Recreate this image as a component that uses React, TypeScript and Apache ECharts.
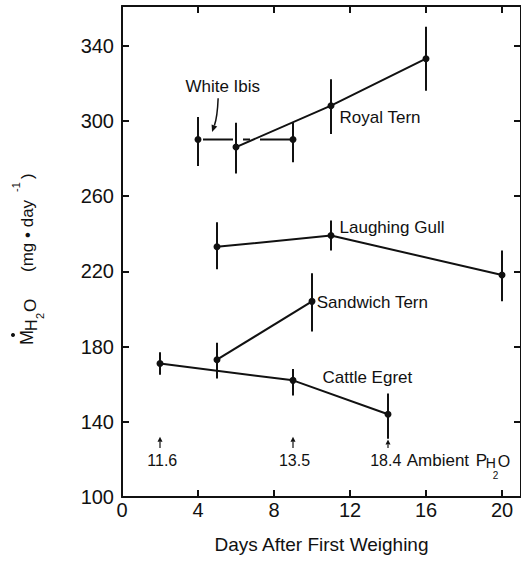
import React, { useEffect, useRef } from 'react';
import * as echarts from 'echarts';

// ---- data ----
const xTicks = [0, 4, 8, 12, 16, 20];
const yTicks = [100, 140, 180, 220, 260, 300, 340];

const whiteIbis = [[4, 290], [9, 290]];
const whiteIbisErr = [[4, 276, 302], [9, 278, 299]];
const royalTern = [[6, 286], [11, 308], [16, 333]];
const royalTernErr = [[6, 272, 299], [11, 293, 322], [16, 316, 350]];
const laughingGull = [[5, 233], [11, 239], [20, 218]];
const laughingGullErr = [[5, 221, 246], [11, 231, 247], [20, 204, 231]];
const sandwichTern = [[5, 173], [10, 204]];
const sandwichTernErr = [[5, 163, 182], [10, 188, 219]];
const cattleEgret = [[2, 171], [9, 162], [14, 144]];
const cattleEgretErr = [[2, 165, 177], [9, 154, 168], [14, 131, 155]];

const speciesNames = ['White Ibis', 'Royal Tern', 'Laughing Gull', 'Sandwich Tern', 'Cattle Egret'];
const speciesLabelAnchors = [[5.3, 318], [11.45, 301.5], [11.45, 243], [10.25, 203.5], [10.55, 163.5]];
const speciesLabelAlign = ['center', 'left', 'left', 'left', 'left'];

const ambientDays = [2, 9, 14];
const ambientPressures = ['11.6', '13.5', '18.4'];
const ambientLabelDays = [2.12, 9.08, 13.88];
const ambientArrowTips = [132, 132, 130.5];
const ambientArrowBase = 126;
const ambientLabelY = 119.5;

// White Ibis pointer: start, control, end (data coords)
const ibisPointer = [[5.06, 312], [5.02, 302], [4.74, 294]];

const FONT = '"Liberation Sans", Arial, sans-serif';
const INK = '#111';

export default function App() {
  const ref = useRef<HTMLDivElement>(null);

  useEffect(() => {
    const chart = echarts.init(ref.current!, null, { renderer: 'svg' });

    const errorData = [
      ...whiteIbisErr,
      ...royalTernErr,
      ...laughingGullErr,
      ...sandwichTernErr,
      ...cattleEgretErr,
    ];

    const lineSeries = (name: string, data: number[][], dashed = false) => ({
      name,
      type: 'line',
      data,
      symbol: 'circle',
      symbolSize: 7,
      itemStyle: { color: INK },
      lineStyle: dashed
        ? { color: INK, width: 2, type: [30, 10, 7, 10, 30, 13], dashOffset: 95 }
        : { color: INK, width: 2 },
      z: 3,
    });

    const arrowHead = (tip: number[], from: number[], len: number, half: number) => {
      const dx = tip[0] - from[0];
      const dy = tip[1] - from[1];
      const l = Math.sqrt(dx * dx + dy * dy) || 1;
      const ux = dx / l, uy = dy / l;
      const bx = tip[0] - ux * len, by = tip[1] - uy * len;
      return {
        base: [bx, by],
        points: [tip, [bx - uy * half, by + ux * half], [bx + uy * half, by - ux * half]],
      };
    };

    const option: any = {
      animation: false,
      backgroundColor: '#fff',
      grid: { left: 122, top: 6, width: 400, height: 491 },
      xAxis: [
        {
          type: 'value', min: 0, max: 21, position: 'bottom',
          axisLine: { show: true, onZero: false, lineStyle: { color: INK, width: 2 } },
          axisTick: { show: true, inside: true, length: 7, customValues: xTicks, lineStyle: { color: INK, width: 2 } },
          axisLabel: { customValues: xTicks, color: INK, fontSize: 20, fontFamily: FONT, margin: 3 },
          splitLine: { show: false },
          name: 'Days After First Weighing',
          nameLocation: 'middle',
          nameGap: 38,
          nameTextStyle: { color: INK, fontSize: 19, fontFamily: FONT },
        },
        {
          type: 'value', min: 0, max: 21, position: 'top',
          axisLine: { show: true, onZero: false, lineStyle: { color: INK, width: 2 } },
          axisTick: { show: true, inside: true, length: 7, customValues: xTicks, lineStyle: { color: INK, width: 2 } },
          axisLabel: { show: false },
          splitLine: { show: false },
        },
      ],
      yAxis: [
        {
          type: 'value', min: 100, max: 361, position: 'left',
          axisLine: { show: true, onZero: false, lineStyle: { color: INK, width: 2 } },
          axisTick: { show: true, inside: true, length: 7, customValues: yTicks, lineStyle: { color: INK, width: 2 } },
          axisLabel: { customValues: yTicks, color: INK, fontSize: 20, fontFamily: FONT, margin: 8 },
          splitLine: { show: false },
        },
        {
          type: 'value', min: 100, max: 361, position: 'right',
          axisLine: { show: true, onZero: false, lineStyle: { color: INK, width: 2 } },
          axisTick: { show: true, inside: true, length: 7, customValues: yTicks, lineStyle: { color: INK, width: 2 } },
          axisLabel: { show: false },
          splitLine: { show: false },
        },
      ],
      series: [
        {
          name: 'errors',
          type: 'custom',
          data: errorData,
          z: 2,
          renderItem: (params: any, api: any) => {
            const x = api.value(0);
            const p1 = api.coord([x, api.value(1)]);
            const p2 = api.coord([x, api.value(2)]);
            return {
              type: 'line',
              shape: { x1: p1[0], y1: p1[1], x2: p2[0], y2: p2[1] },
              style: { stroke: INK, lineWidth: 2 },
            };
          },
        },
        lineSeries('White Ibis', whiteIbis, true),
        lineSeries('Royal Tern', royalTern),
        lineSeries('Laughing Gull', laughingGull),
        lineSeries('Sandwich Tern', sandwichTern),
        lineSeries('Cattle Egret', cattleEgret),
        {
          name: 'species labels',
          type: 'custom',
          data: speciesLabelAnchors,
          z: 4,
          renderItem: (params: any, api: any) => {
            const i = params.dataIndex;
            const p = api.coord([api.value(0), api.value(1)]);
            return {
              type: 'text',
              x: p[0], y: p[1],
              style: {
                text: speciesNames[i], fill: INK, fontSize: 17, fontFamily: FONT,
                align: speciesLabelAlign[i], verticalAlign: 'middle',
              },
            };
          },
        },
        {
          name: 'ambient',
          type: 'custom',
          data: ambientDays.map((d, i) => [d, ambientArrowTips[i]]),
          z: 4,
          renderItem: (params: any, api: any) => {
            const i = params.dataIndex;
            const d = api.value(0);
            const tip = api.coord([d, api.value(1)]);
            const base = api.coord([d, ambientArrowBase]);
            const lab = api.coord([ambientLabelDays[i], ambientLabelY]);
            const head = arrowHead(tip, base, 5, 2.5);
            const children: any[] = [
              { type: 'line', shape: { x1: base[0], y1: base[1], x2: head.base[0], y2: head.base[1] }, style: { stroke: INK, lineWidth: 1.2 } },
              { type: 'polygon', shape: { points: head.points }, style: { fill: INK } },
              {
                type: 'text', x: lab[0], y: lab[1],
                style: { text: ambientPressures[i], fill: INK, fontSize: 16, fontFamily: FONT, align: 'center', verticalAlign: 'middle' },
              },
            ];
            if (i === ambientDays.length - 1) {
              const tx = lab[0], ty = lab[1];
              children.push(
                { type: 'text', x: tx + 21, y: ty, style: { text: 'Ambient', fill: INK, fontSize: 17, fontFamily: FONT, align: 'left', verticalAlign: 'middle' } },
                { type: 'text', x: tx + 90, y: ty, style: { text: 'P', fill: INK, fontSize: 17, fontFamily: FONT, align: 'left', verticalAlign: 'middle' } },
                { type: 'text', x: tx + 100, y: ty + 3, style: { text: 'H', fill: INK, fontSize: 14, fontFamily: FONT, align: 'left', verticalAlign: 'middle' } },
                { type: 'text', x: tx + 107, y: ty + 15, style: { text: '2', fill: INK, fontSize: 10, fontFamily: FONT, align: 'left', verticalAlign: 'middle' } },
                { type: 'text', x: tx + 112, y: ty + 1, style: { text: 'O', fill: INK, fontSize: 16, fontFamily: FONT, align: 'left', verticalAlign: 'middle' } },
              );
            }
            return { type: 'group', children };
          },
        },
        {
          name: 'ibis pointer',
          type: 'custom',
          data: [ibisPointer[0]],
          z: 4,
          renderItem: (params: any, api: any) => {
            const s = api.coord(ibisPointer[0]);
            const c = api.coord(ibisPointer[1]);
            const e = api.coord(ibisPointer[2]);
            const head = arrowHead(e, c, 7, 3);
            return {
              type: 'group',
              children: [
                { type: 'bezierCurve', shape: { x1: s[0], y1: s[1], cpx1: c[0], cpy1: c[1], x2: head.base[0], y2: head.base[1] }, style: { stroke: INK, lineWidth: 1.5, fill: 'none' } },
                { type: 'polygon', shape: { points: head.points }, style: { fill: INK } },
              ],
            };
          },
        },
      ],
      graphic: [
        {
          type: 'group',
          x: 33, y: 345,
          rotation: Math.PI / 2,
          children: [
            { type: 'circle', shape: { cx: 10, cy: -20, r: 2 }, style: { fill: INK } },
            { type: 'text', x: 0, y: -6.5, style: { text: 'M', fill: INK, fontSize: 18, fontFamily: FONT, align: 'left', verticalAlign: 'middle' } },
            { type: 'text', x: 14, y: -1.8, style: { text: 'H', fill: INK, fontSize: 16, fontFamily: FONT, align: 'left', verticalAlign: 'middle' } },
            { type: 'text', x: 26, y: 6.5, style: { text: '2', fill: INK, fontSize: 11, fontFamily: FONT, align: 'left', verticalAlign: 'middle' } },
            { type: 'text', x: 33, y: -2.1, style: { text: 'O', fill: INK, fontSize: 17, fontFamily: FONT, align: 'left', verticalAlign: 'middle' } },
            { type: 'text', x: 73, y: -6, style: { text: '(mg • day', fill: INK, fontSize: 17, fontFamily: FONT, align: 'left', verticalAlign: 'middle' } },
            { type: 'text', x: 153, y: -17, style: { text: '-1', fill: INK, fontSize: 11, fontFamily: FONT, align: 'left', verticalAlign: 'middle' } },
            { type: 'text', x: 166, y: -6, style: { text: ')', fill: INK, fontSize: 17, fontFamily: FONT, align: 'left', verticalAlign: 'middle' } },
          ],
        },
      ],
    };

    chart.setOption(option);
    return () => chart.dispose();
  }, []);

  return (
    <div
      ref={ref}
      style={{ position: 'fixed', left: 0, top: 0, width: 521, height: 564, background: '#fff' }}
    />
  );
}
